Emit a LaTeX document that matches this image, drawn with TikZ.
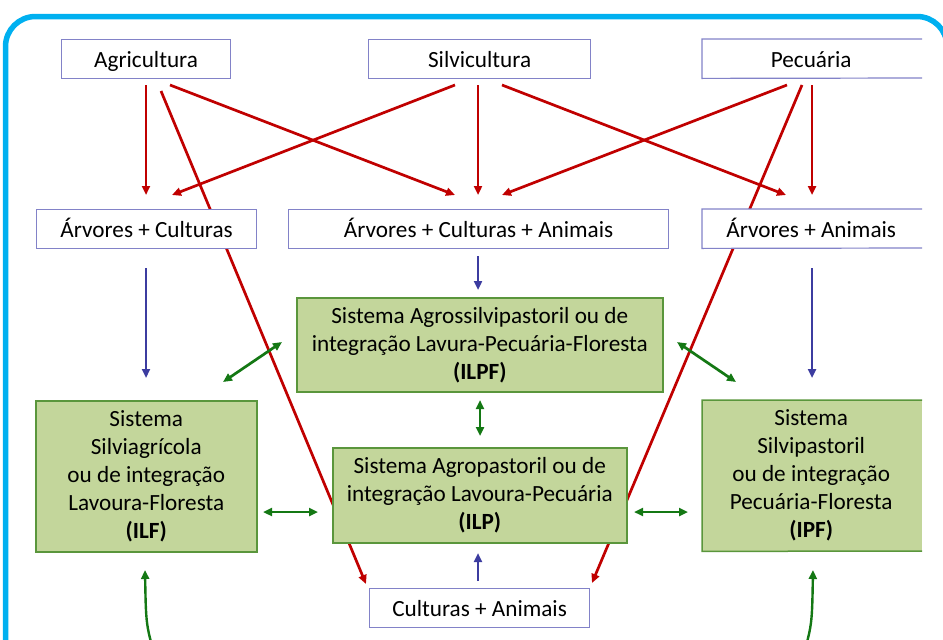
\documentclass[tikz,border=0pt]{standalone}
\usepackage{fontspec}
\setmainfont{Carlito}
\usetikzlibrary{arrows.meta}
\definecolor{frame}{RGB}{0,176,240}
\definecolor{redA}{RGB}{192,0,0}
\definecolor{blueA}{RGB}{60,60,160}
\definecolor{greenA}{RGB}{20,120,20}
\definecolor{gfill}{RGB}{195,214,155}
\definecolor{gline}{RGB}{90,150,60}
\definecolor{wline}{RGB}{130,130,200}
\tikzset{
  every node/.style={font=\fontsize{23.2}{28}\selectfont},
  wbox/.style={draw=wline, line width=1.2, fill=white, minimum height=39, inner sep=0, text height=19, text depth=2, anchor=north west, align=center},
  wboxopen/.style={fill=white, minimum height=39, inner sep=0, text height=19, text depth=2, anchor=north west, align=center},
  gbox/.style={draw=gline, line width=1.5, fill=gfill, inner sep=0, anchor=north west, align=center},
  gboxopen/.style={fill=gfill, inner sep=0, anchor=north west, align=center},
  tip/.style={-{Triangle[length=9,width=8]}},
  redarrow/.style={draw=redA, line width=2.7, tip},
  blueline/.style={draw=blueA, line width=2.7, tip},
  greenarrow/.style={draw=greenA, line width=2.7, {Triangle[length=9,width=8]}-{Triangle[length=9,width=8]}},
  greenline/.style={draw=greenA, line width=2.4, tip},
}
\begin{document}
\begin{tikzpicture}[x=1pt,y=-1pt]
\useasboundingbox (0,0) rectangle (943,640);
\begin{scope}
\clip (0,0) rectangle (943,640);
% frame
\draw[frame, line width=5.5, rounded corners=30] (5.5,700) -- (5.5,16.5) -- (947,16.5) -- (947,700);

% long red lines (behind boxes)
\coordinate (la) at (161,91);
\coordinate (lb) at (366,584);
\coordinate (ra) at (802,85);
\coordinate (rb) at (592,583);
\draw[redarrow] (la) -- (lb);
\draw[redarrow] (ra) -- (rb);

% top boxes
\node[wbox, minimum width=169] (agr) at (61,39) {Agricultura};
\node[wbox, minimum width=222] (sil) at (368,39) {Silvicultura};
\node[wboxopen, minimum width=218] (pec) at (702,39) {Pecuária};
\draw[wline, line width=1.2] (922,39) -- (pec.north west) -- (pec.south west) -- (922,78);

% middle row
\node[wbox, minimum width=220] (ac) at (36,209) {Árvores + Culturas};
\node[wbox, minimum width=380] (aca) at (288,209) {Árvores + Culturas + Animais};
\node[wboxopen, minimum width=218] (aa) at (702,209) {Árvores + Animais};
\draw[wline, line width=1.2] (922,209) -- (aa.north west) -- (aa.south west) -- (922,248);

% green boxes
\node[gbox, minimum width=366, minimum height=94] (ilpf) at (296,297)
  {Sistema Agrossilvipastoril ou de\\integração Lavura-Pecuária-Floresta\\\textbf{(ILPF)}};
\node[gbox, minimum width=221, minimum height=151] (ilf) at (35,400)
  {Sistema\\Silviagrícola\\ou de integração\\Lavoura-Floresta\\\textbf{(ILF)}};
\node[gbox, minimum width=294, minimum height=95] (ilp) at (332,447)
  {Sistema Agropastoril ou de\\integração Lavoura-Pecuária\\\textbf{(ILP)}};
\node[gboxopen, minimum width=218, minimum height=151] (ipf) at (702,400)
  {Sistema\\Silvipastoril\\ou de integração\\Pecuária-Floresta\\\textbf{(IPF)}};
\fill[gfill] (ipf.north east) rectangle (922,551);
\draw[gline, line width=1.5] (922,400) -- (ipf.north west) -- (ipf.south west) -- (922,551);

% bottom box
\node[wbox, minimum width=220] (ca) at (369,588) {Culturas + Animais};

% short red arrows from top boxes
\coordinate (a1) at (146,85);  \coordinate (a1e) at (146,195);
\coordinate (a2) at (170,85);  \coordinate (a2e) at (455,195);
\coordinate (s1) at (455,85);  \coordinate (s1e) at (172,195);
\coordinate (s2) at (478,85);  \coordinate (s2e) at (478,195);
\coordinate (s3) at (502,85);  \coordinate (s3e) at (786,195);
\coordinate (p1) at (787,85);  \coordinate (p1e) at (502,195);
\coordinate (p2) at (812,85);  \coordinate (p2e) at (812,195);
\draw[redarrow] (a1) -- (a1e);
\draw[redarrow] (a2) -- (a2e);
\draw[redarrow] (s1) -- (s1e);
\draw[redarrow] (s2) -- (s2e);
\draw[redarrow] (s3) -- (s3e);
\draw[redarrow] (p1) -- (p1e);
\draw[redarrow] (p2) -- (p2e);

% blue arrows
\coordinate (b1) at (146,268);  \coordinate (b1e) at (146,378);
\coordinate (b2) at (478,256);  \coordinate (b2e) at (478,290);
\coordinate (b3) at (812,268);  \coordinate (b3e) at (812,378);
\coordinate (b4) at (478,581);  \coordinate (b4e) at (478,553);
\draw[blueline] (b1) -- (b1e);
\draw[blueline] (b2) -- (b2e);
\draw[blueline] (b3) -- (b3e);
\draw[blueline] (b4) -- (b4e);

% green double arrows
\draw[greenarrow] (223,382) -- (282,342);
\draw[greenarrow] (677,342) -- (736,382);
\draw[greenarrow] (480,400) -- (480,436);
\draw[greenarrow] (263,512) -- (318,512);
\draw[greenarrow] (634,512) -- (688,512);

% green curves from below
\draw[greenline] (156,660) .. controls (146,625) .. (145,570);
\draw[greenline] (802,660) .. controls (812,625) .. (813,570);
\end{scope}
\end{tikzpicture}
\end{document}
